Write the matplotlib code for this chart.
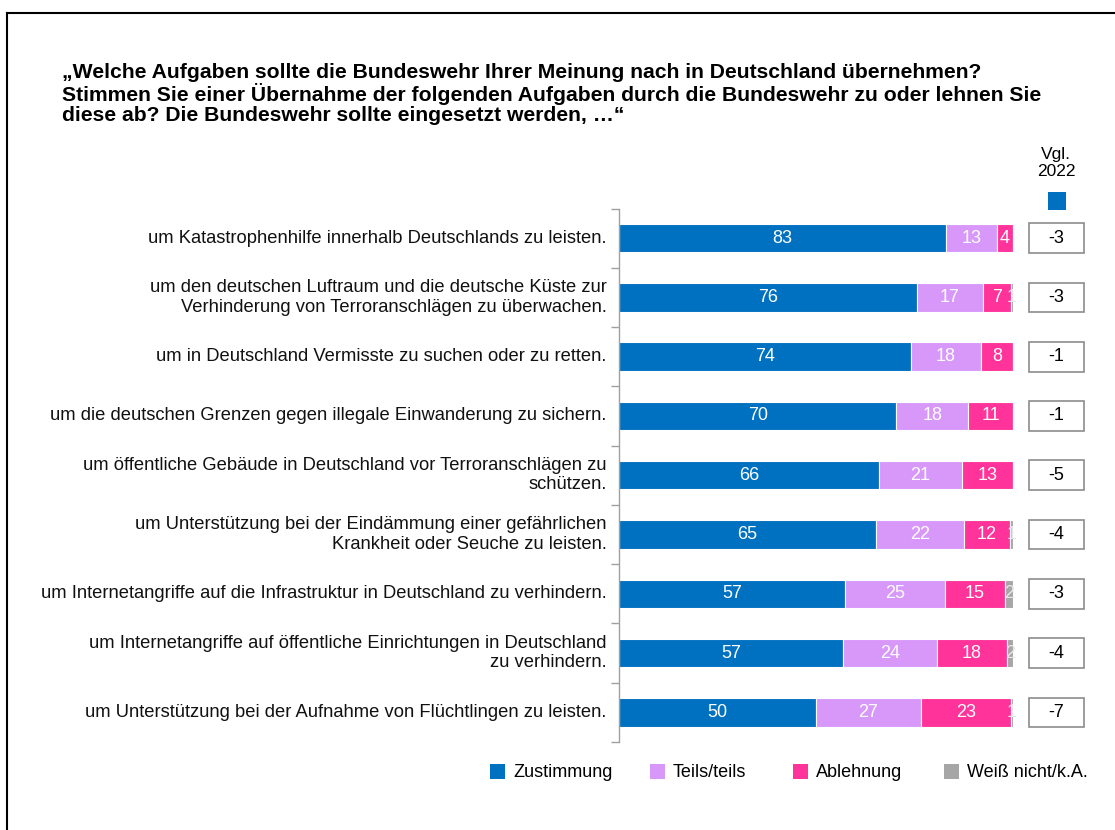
import matplotlib.pyplot as plt
from matplotlib.patches import Rectangle
from matplotlib.lines import Line2D
import numpy as np

plt.rcParams['font.family'] = ['Liberation Sans', 'DejaVu Sans']

aufgaben = [
    "um Katastrophenhilfe innerhalb Deutschlands zu leisten.",
    "um den deutschen Luftraum und die deutsche Küste zur\nVerhinderung von Terroranschlägen zu überwachen.",
    "um in Deutschland Vermisste zu suchen oder zu retten.",
    "um die deutschen Grenzen gegen illegale Einwanderung zu sichern.",
    "um öffentliche Gebäude in Deutschland vor Terroranschlägen zu\nschützen.",
    "um Unterstützung bei der Eindämmung einer gefährlichen\nKrankheit oder Seuche zu leisten.",
    "um Internetangriffe auf die Infrastruktur in Deutschland zu verhindern.",
    "um Internetangriffe auf öffentliche Einrichtungen in Deutschland\nzu verhindern.",
    "um Unterstützung bei der Aufnahme von Flüchtlingen zu leisten.",
]
# Anteile in Prozent (Beschriftung gerundet)
zustimmung = [83.0, 75.6, 74.0, 70.4, 66.0, 65.2, 57.3, 56.8, 50.0]
teils = [13.0, 16.8, 18.0, 18.3, 21.0, 22.3, 25.4, 24.0, 26.6]
ablehnung = [4.0, 7.0, 8.0, 11.3, 13.0, 11.8, 15.3, 17.6, 22.8]
weiss_nicht = [0.0, 0.6, 0.0, 0.0, 0.0, 0.7, 2.0, 1.6, 0.6]
vgl_2022 = ["-3", "-3", "-1", "-1", "-5", "-4", "-3", "-4", "-7"]

serien = ["Zustimmung", "Teils/teils", "Ablehnung", "Weiß nicht/k.A."]
farben = ["#0070C0", "#D898FA", "#FF3399", "#A6A6A6"]

fig = plt.figure(figsize=(11.15, 8.3), dpi=100)
ax = fig.add_axes([619 / 1115, 1 - 742 / 830, 394 / 1115, 533.5 / 830])

n = len(aufgaben)
y = np.arange(n)
werte = [zustimmung, teils, ablehnung, weiss_nicht]
links = np.zeros(n)
for name, vals, col in zip(serien, werte, farben):
    vals = np.array(vals, dtype=float)
    bars = ax.barh(y, vals, left=links, height=0.48, color=col,
                   edgecolor='white', linewidth=0.8, label=name)
    for b, v, l in zip(bars, vals, links):
        if v <= 0:
            continue
        t = ax.text(l + v / 2, b.get_y() + b.get_height() / 2, f"{round(v + 0.001):d}",
                    ha='center', va='center', color='white', fontsize=13)
        if name == "Weiß nicht/k.A.":
            t.set_color('#e6e6e6')
            t.set_clip_path(b)
    links += vals

ax.set_xlim(0, 100)
ax.set_ylim(n - 0.5, -0.5)
ax.set_xticks([])
ax.set_yticks(np.arange(n + 1) - 0.5)
ax.set_yticklabels([])
ax.tick_params(axis='y', length=6, color='#a0a0a0', width=1)
for s in ['top', 'right', 'bottom']:
    ax.spines[s].set_visible(False)
ax.spines['left'].set_color('#a0a0a0')
ax.spines['left'].set_linewidth(1)

for i, txt in enumerate(aufgaben):
    ax.annotate(txt, xy=(0, i), xycoords='data', xytext=(-9, 0),
                textcoords='offset points', ha='right', va='center',
                fontsize=13.2, color='#111111', multialignment='right',
                linespacing=1.17)

# Vgl. 2022 boxes
for i, v in enumerate(vgl_2022):
    ax.add_patch(Rectangle((104, i - 0.25), 14, 0.5, transform=ax.transData,
                           facecolor='white', edgecolor='#8c8c8c',
                           linewidth=1.2, clip_on=False))
    ax.text(111, i, v, ha='center', va='center', fontsize=13, color='black')

fig.text(1056 / 1115, 1 - 163 / 830, "Vgl.\n2022", ha='center', va='center',
         fontsize=12.5, linespacing=1.15)
fig.patches.append(Rectangle((1048 / 1115, 1 - 210 / 830), 18 / 1115, 18 / 830,
                             transform=fig.transFigure, facecolor='#0070C0',
                             edgecolor='none'))

fig.text(62 / 1115, 1 - 94 / 830,
         "„Welche Aufgaben sollte die Bundeswehr Ihrer Meinung nach in Deutschland übernehmen?\n"
         "Stimmen Sie einer Übernahme der folgenden Aufgaben durch die Bundeswehr zu oder lehnen Sie\n"
         "diese ab? Die Bundeswehr sollte eingesetzt werden, …“",
         ha='left', va='center', fontsize=15.2, fontweight='bold', linespacing=1.08)

# legend
leg_x = [490, 650, 793, 944]
for xp, name, col in zip(leg_x, serien, farben):
    fig.patches.append(Rectangle((xp / 1115, 1 - 779 / 830), 15 / 1115, 15 / 830,
                                 transform=fig.transFigure, facecolor=col,
                                 edgecolor='none'))
    fig.text((xp + 23) / 1115, 1 - 772 / 830, name, ha='left', va='center',
             fontsize=13)

# frame lines
fig.lines.append(Line2D([7 / 1115, 7 / 1115], [0, 1 - 13 / 830],
                        transform=fig.transFigure, color='black', linewidth=1.5))
fig.lines.append(Line2D([7 / 1115, 1], [1 - 13 / 830, 1 - 13 / 830],
                        transform=fig.transFigure, color='black', linewidth=1.5))

fig.savefig('out.png', dpi=100, facecolor='white')
